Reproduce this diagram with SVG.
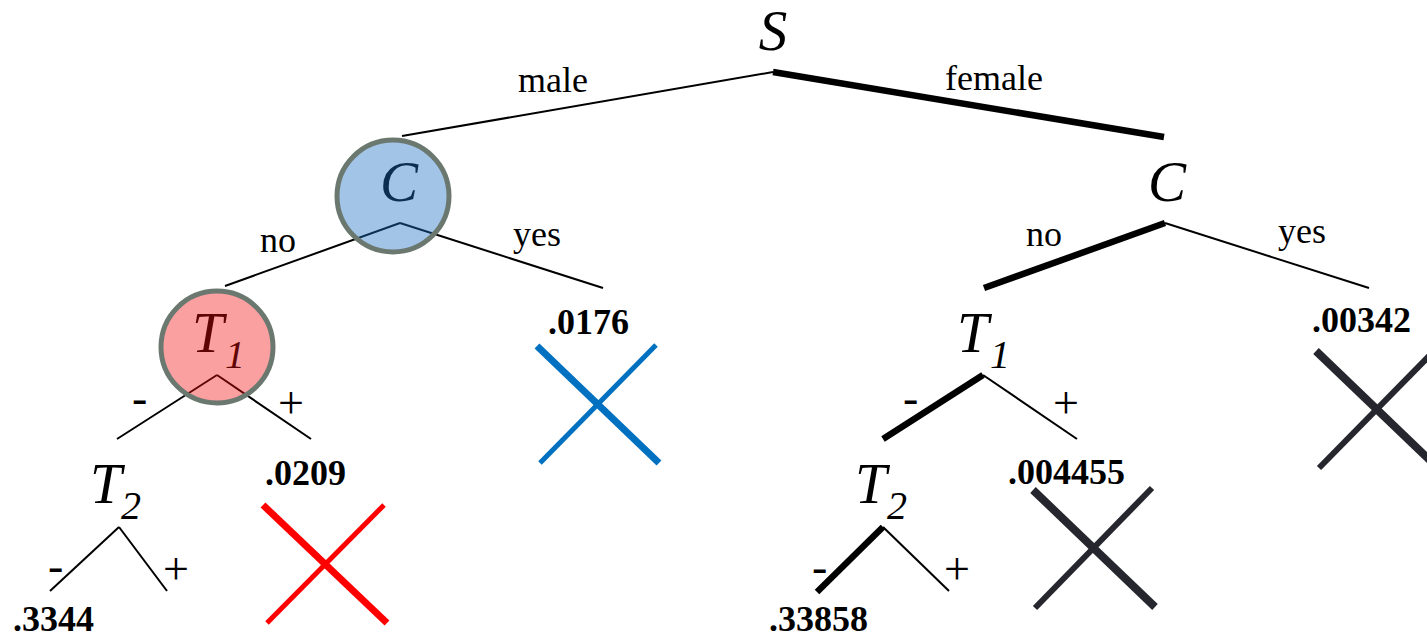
<svg xmlns="http://www.w3.org/2000/svg" width="1427" height="640" viewBox="0 0 1427 640">
<style>
.e{stroke:#000;stroke-width:2;fill:none}
.k{stroke:#000;stroke-width:6.5;fill:none}
.var{font-family:"Liberation Serif",serif;font-style:italic;font-size:57px;fill:#000}
.sub{font-family:"Liberation Serif",serif;font-style:italic;font-size:40px;fill:#000}
.lbl{font-family:"Liberation Serif",serif;font-size:36px;fill:#000}
.pm{font-family:"Liberation Serif",serif;font-size:46px;fill:#000}
.num{font-family:"Liberation Serif",serif;font-weight:bold;font-size:36px;fill:#000}
.ring{stroke:#6b7870;stroke-width:5}
</style>
<rect width="1427" height="640" fill="#fff"/>
<g id="connectors">
<line class="e" x1="773" y1="72" x2="402" y2="136"/>
<line class="k" x1="773" y1="72" x2="1164" y2="137"/>
<line class="e" x1="400" y1="223" x2="225" y2="286"/>
<line class="e" x1="400" y1="223" x2="603" y2="288"/>
<line class="e" x1="217" y1="375" x2="117" y2="439"/>
<line class="e" x1="217" y1="375" x2="311" y2="439"/>
<line class="e" x1="119" y1="527" x2="50" y2="591"/>
<line class="e" x1="119" y1="527" x2="167" y2="591"/>
<line class="k" x1="1165" y1="223" x2="984" y2="288"/>
<line class="e" x1="1165" y1="223" x2="1369" y2="288"/>
<line class="k" x1="983" y1="375" x2="883" y2="439"/>
<line class="e" x1="983" y1="375" x2="1077" y2="439"/>
<line class="k" x1="883" y1="527" x2="817" y2="592"/>
<line class="e" x1="883" y1="527" x2="949" y2="591"/>
<text class="lbl" x="518" y="92">male</text>
<text class="lbl" x="945" y="90">female</text>
<text class="lbl" x="260" y="252">no</text>
<text class="lbl" x="513" y="246">yes</text>
<text class="lbl" x="1026" y="246">no</text>
<text class="lbl" x="1278" y="243">yes</text>
<text class="pm" x="132" y="413">-</text>
<text class="pm" x="278" y="418">+</text>
<text class="pm" x="903" y="413">-</text>
<text class="pm" x="1053" y="418">+</text>
<text class="pm" x="48" y="581">-</text>
<text class="pm" x="163" y="584">+</text>
<text class="pm" x="812" y="582">-</text>
<text class="pm" x="944" y="584">+</text>
</g>
<g id="node-S"><text class="var" x="773" y="50" text-anchor="middle">S</text></g>
<g id="node-C-left">
<text class="var" x="399" y="201" text-anchor="middle">C</text>
<circle cx="393" cy="196" r="56" fill="#1e70c3" fill-opacity="0.41"/>
<circle cx="393" cy="196" r="56" fill="none" class="ring"/>
</g>
<g id="node-T1-left">
<text class="var" x="192" y="352">T</text><text class="sub" x="225" y="368">1</text>
<circle cx="217" cy="347" r="56" fill="#f50a0a" fill-opacity="0.39"/>
<circle cx="217" cy="347" r="56" fill="none" class="ring"/>
</g>
<g id="node-T2-left"><text class="var" x="90" y="503">T</text><text class="sub" x="121" y="519">2</text></g>
<g id="leaf-3344"><text class="num" x="13" y="631">.3344</text></g>
<g id="leaf-0209"><text class="num" x="265" y="485">.0209</text>
<line x1="263" y1="505" x2="387" y2="623" stroke="#ff0000" stroke-width="7"/>
<line x1="384" y1="505" x2="267" y2="623" stroke="#ff0000" stroke-width="5"/></g>
<g id="leaf-0176"><text class="num" x="548" y="334">.0176</text>
<line x1="537" y1="346" x2="659" y2="463" stroke="#0070c0" stroke-width="7"/>
<line x1="656" y1="345" x2="540" y2="463" stroke="#0070c0" stroke-width="5"/></g>
<g id="node-C-right"><text class="var" x="1167" y="201" text-anchor="middle">C</text></g>
<g id="node-T1-right"><text class="var" x="957" y="352">T</text><text class="sub" x="990" y="368">1</text></g>
<g id="node-T2-right"><text class="var" x="855" y="503">T</text><text class="sub" x="887" y="519">2</text></g>
<g id="leaf-33858"><text class="num" x="769" y="631">.33858</text></g>
<g id="leaf-004455"><text class="num" x="1008" y="484">.004455</text>
<line x1="1033" y1="490" x2="1155" y2="607" stroke="#26262e" stroke-width="8"/>
<line x1="1152" y1="488" x2="1035" y2="608" stroke="#26262e" stroke-width="6"/></g>
<g id="leaf-00342"><text class="num" x="1312" y="332">.00342</text>
<line x1="1316" y1="351" x2="1438" y2="468" stroke="#26262e" stroke-width="8"/>
<line x1="1436" y1="349" x2="1319" y2="468" stroke="#26262e" stroke-width="6"/></g>
</svg>
